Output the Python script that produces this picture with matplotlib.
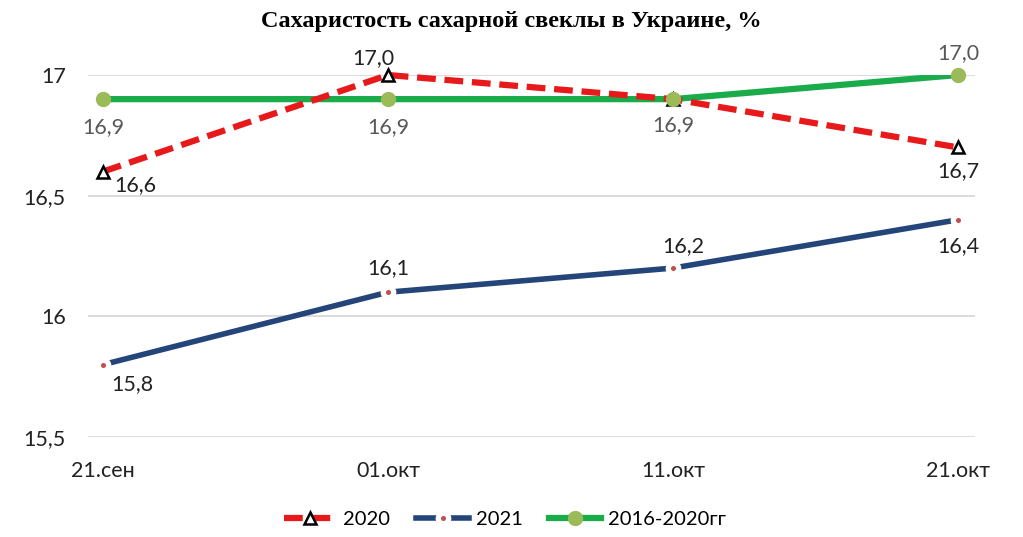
import numpy as np
import matplotlib.pyplot as plt

dates = ["21.сен", "01.окт", "11.окт", "21.окт"]
s2020 = [16.6, 17.0, 16.9, 16.7]
s2021 = [15.8, 16.1, 16.2, 16.4]
avg = [16.9, 16.9, 16.9, 17.0]

plt.rcParams['font.family'] = ['Lato', 'DejaVu Sans']

fig = plt.figure(figsize=(10.23, 5.37), dpi=100)
ax = fig.add_axes([88/1023, 1-437/537, (975-88)/1023, (437-75)/537])
x = np.arange(len(dates))

ax.plot(x, s2020, color="#E8191B", lw=4.5, ls=(0, (3.0, 1.4)), marker="^", ms=8,
        mfc="white", mec="black", mew=1.8, label="2020", clip_on=False, zorder=4)
ax.plot(x, s2021, color="#24457A", lw=4, marker="o", ms=7.5,
        mfc="#C0504D", mec="white", mew=3.8, label="2021", clip_on=False, zorder=3)
ax.plot(x, avg, color="#1AAB4B", lw=4.5, label="2016-2020гг", zorder=3)
# markers of the 5-year average sit on top of the 2020 triangles
ax.plot(x, avg, ls="none", marker="o", ms=10, mfc="#9BBB59", mec="#9BBB59",
        clip_on=False, zorder=5)

ax.set_xlim(-0.053, 3.06)
ax.set_ylim(15.5, 17)
ax.set_yticks([15.5, 16, 16.5, 17])
ax.set_yticklabels(["15,5", "16", "16,5", "17"])
ax.set_xticks(x)
ax.set_xticklabels(dates)
ax.tick_params(length=0, labelsize=15.5, colors="#222222")
ax.tick_params(axis="y", pad=16)
ax.tick_params(axis="x", pad=17)
ax.grid(axis="y", color="#D9D9D9", lw=1.3)
for sp in ax.spines.values():
    sp.set_visible(False)

fmt = lambda v: f"{v:.1f}".replace(".", ",")
# offsets in pixels
offs20 = [(32, -14), (-15, 17), None, (0, -24)]
for i, v in enumerate(s2020):
    if offs20[i] is None:
        continue
    ax.annotate(fmt(v), (x[i], v), xytext=offs20[i], textcoords="offset pixels",
                ha="center", va="center", fontsize=15.5, color="#222222")
offs_avg = [(0, -28), (0, -28), (0, -26), (0, 22)]
for i, v in enumerate(avg):
    ax.annotate(fmt(v), (x[i], v), xytext=offs_avg[i], textcoords="offset pixels",
                ha="center", va="center", fontsize=15.5, color="#595959")
offs21 = [(29, -19), (0, 24), (10, 22), (0, -26)]
for i, v in enumerate(s2021):
    ax.annotate(fmt(v), (x[i], v), xytext=offs21[i], textcoords="offset pixels",
                ha="center", va="center", fontsize=15.5, color="#222222")

fig.text(0.5, 1-22/537, "Сахаристость сахарной свеклы в Украине, %", ha="center",
         va="center", fontsize=17.5, fontweight="bold", family="Liberation Serif")

h, l = ax.get_legend_handles_labels()
leg = fig.legend(h, l, loc="center", bbox_to_anchor=(505/1023, 1-519/537), ncol=3,
                 frameon=False, fontsize=14.5, handlelength=2.6, columnspacing=1.3,
                 handletextpad=0.35)
# give the 2016-2020 legend entry its marker
leg.legend_handles[2].set_marker("o")
leg.legend_handles[2].set_markersize(10)
leg.legend_handles[2].set_markerfacecolor("#9BBB59")
leg.legend_handles[2].set_markeredgecolor("#9BBB59")

fig.savefig("out.png", dpi=100)
